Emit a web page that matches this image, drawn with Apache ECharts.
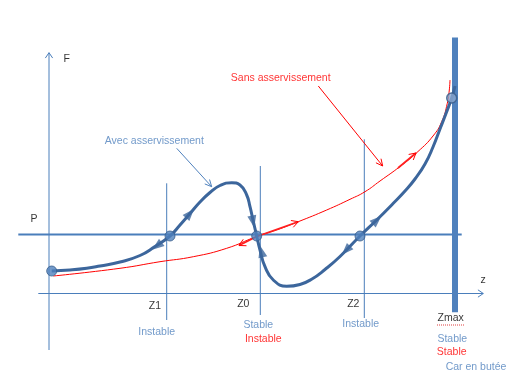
<!DOCTYPE html>
<html><head><meta charset="utf-8">
<script src="https://cdn.jsdelivr.net/npm/echarts@6/dist/echarts.min.js"></script>
<style>html,body{margin:0;padding:0;background:#fff}#c{width:527px;height:392px}</style>
</head><body><div id="c"></div>
<script>
// Diagram units: z along horizontal axis, F along vertical axis
const blueCurve = [[0.27,2.25],[2.1,2.35],[3.77,2.52],[5.1,2.75],[7.1,3.15],[9.1,3.8],[10.6,4.7],[12.1,5.75],[13.1,6.85],[14.1,8.0],[15.1,9.15],[16.1,10.1],[17.1,10.8],[18.27,11.08],[19.1,10.85],[19.77,9.85],[20.1,8.68],[20.4,7.35],[20.77,5.75],[21.1,4.35],[21.6,2.68],[22.43,1.35],[23.77,0.72],[25.1,0.9],[26.3,1.45],[27.6,2.4],[29.1,3.7],[31.1,5.75],[32.77,7.35],[34.43,9.02],[35.6,10.25],[36.6,11.45],[37.6,12.95],[38.4,14.65],[39.1,16.45],[39.7,18.0],[40.27,19.55],[40.6,20.75]];
const redCurve = [[0.43,1.75],[7.1,2.52],[11.1,3.18],[14.43,3.68],[17.77,4.52],[20.77,5.7],[22.77,6.35],[24.93,7.18],[27.77,8.35],[30.1,9.42],[31.6,10.18],[33.1,11.25],[35.1,12.7],[36.9,14.2],[38.4,15.75],[39.27,17.18],[39.83,19.02],[40.03,20.35],[40.1,21.35]];
const equilibria = [[0.27,2.25],[12.1,5.75],[20.77,5.75],[31.1,5.75]];
const stopPoint = [[40.27,19.55]];
const fAxisLine = [[0,-5.65],[0,24.08]];
const zAxisLine = [[-1.07,0],[43.43,0]];
const pLine = [[-3.07,5.9],[41.27,5.9]];
const zMarkLines = [[11.77,11.02,-2.65],[21.13,12.75,-2.15],[31.53,15.42,-2.45]];
const zmaxBar = [[40.6,25.6],[40.6,-1.88]];
// arrows along curves: [tailZ, tailF, tipZ, tipF]
const blueArrows = [[12.1,5.75,10.8,4.75],[12.1,5.75,14.1,8.0],[20.1,8.68,20.4,7.2],[21.6,2.68,21.25,4.2],[31.1,5.75,29.7,4.3],[31.1,5.75,32.8,7.35]];
const redArrows = [[20.77,5.7,19.0,4.8],[20.77,5.7,24.93,7.18],[34.9,12.55,36.7,14.05]];
const pointers = [[12.77,14.52,16.27,10.68,'#4f81bd'],[26.93,20.75,33.37,12.75,'#ff0000']];
const spellMark = [[38.8,-3.15],[41.5,-3.15]];
const labels = [
  ['F',1.77,23.42,'#000'],['P',-1.5,7.45,'#000'],['z',43.4,1.35,'#000'],
  ['Z1',10.6,-1.22,'#000'],['Z0',19.43,-1.08,'#000'],['Z2',30.43,-1.08,'#000'],['Zmax',40.17,-2.48,'#000'],
  ['Instable',10.77,-3.88,'#4f81bd'],['Stable',20.93,-3.15,'#4f81bd'],['Instable',21.43,-4.55,'#ff0000'],
  ['Instable',31.17,-3.08,'#4f81bd'],['Stable',40.33,-4.55,'#4f81bd'],['Stable',40.27,-5.88,'#ff0000'],
  ['Car en butée',42.7,-7.38,'#4f81bd'],
  ['Avec asservissement',10.53,15.28,'#4f81bd'],['Sans asservissement',23.17,21.52,'#ff0000']
];

const AX = '#4a7ebb';
function vHead(tz, tf, ang, len, half) {
  const a1 = ang + Math.PI - half, a2 = ang + Math.PI + half;
  return [[tz + len*Math.cos(a1), tf + len*Math.sin(a1)], [tz, tf], [tz + len*Math.cos(a2), tf + len*Math.sin(a2)]];
}
function line(data, color, width, z, smooth, type) {
  return {type:'line', data:data, symbol:'none', silent:true, smooth:smooth||false, z:z||2,
    lineStyle:{color:color, width:width, cap:'butt', type:type||'solid'}};
}
const series = [];
series.push(line(fAxisLine, AX, 1));
series.push(line(vHead(0,24.08,Math.PI/2,0.65,0.6), AX, 1));
series.push(line(zAxisLine, AX, 1));
series.push(line(vHead(43.43,0,0,0.65,0.6), AX, 1));
series.push(line(pLine, AX, 2));
zMarkLines.forEach(m => series.push(line([[m[0],m[1]],[m[0],m[2]]], AX, 1)));
series.push(line(zmaxBar, '#4f81bd', 6, 3));
series.push(line(spellMark, '#e04040', 1, 3, false, 'dotted'));
series.push(line(redCurve, '#ff0000', 1, 4, 0.5));
redArrows.forEach(a => {
  const ang = Math.atan2(a[3]-a[1], a[2]-a[0]);
  series.push(line([[a[0],a[1]],[a[2],a[3]]], '#ff2020', 1.7, 4));
  series.push(line(vHead(a[2],a[3],ang,0.75,0.5), '#ff0000', 1, 4));
});
pointers.forEach(p => {
  const ang = Math.atan2(p[3]-p[1], p[2]-p[0]);
  series.push(line([[p[0],p[1]],[p[2],p[3]]], p[4], 1, 4));
  series.push(line(vHead(p[2],p[3],ang,0.75,0.45), p[4], 1, 4));
});
series.push(line(blueCurve, '#3c669c', 3, 5, 0.5));
series.push({type:'scatter', silent:true, z:6, symbol:'triangle', symbolSize:[9,12],
  itemStyle:{color:'#3c669c'},
  data: blueArrows.map(a => ({value:[a[2],a[3]], symbolRotate: Math.atan2(a[3]-a[1], a[2]-a[0])*180/Math.PI - 90}))});
series.push({type:'scatter', silent:true, z:7, symbol:'circle', symbolSize:10,
  itemStyle:{color:'#4f81bd', borderColor:'#385d8a', borderWidth:1}, data:equilibria});
series.push({type:'scatter', silent:true, z:7, symbol:'circle', symbolSize:10,
  itemStyle:{color:'#8aa8d0', borderColor:'#385d8a', borderWidth:1.5}, data:stopPoint});
series.push({type:'scatter', silent:true, z:8, symbolSize:1, itemStyle:{color:'rgba(0,0,0,0)'},
  data: labels.map(l => ({value:[l[1],l[2]], name:l[0], label:{color:l[3]}})),
  label:{show:true, position:'inside', formatter:'{b}', fontFamily:'Liberation Sans', fontSize:10.5, align:'center', verticalAlign:'middle'}});

const chart = echarts.init(document.getElementById('c'), null, {renderer:'canvas'});
chart.setOption({
  animation:false,
  grid:{left:9, top:3.5, width:510, height:380},
  xAxis:{type:'value', min:-4, max:47, show:false},
  yAxis:{type:'value', min:-9, max:29, show:false},
  series: series
});
</script></body></html>
